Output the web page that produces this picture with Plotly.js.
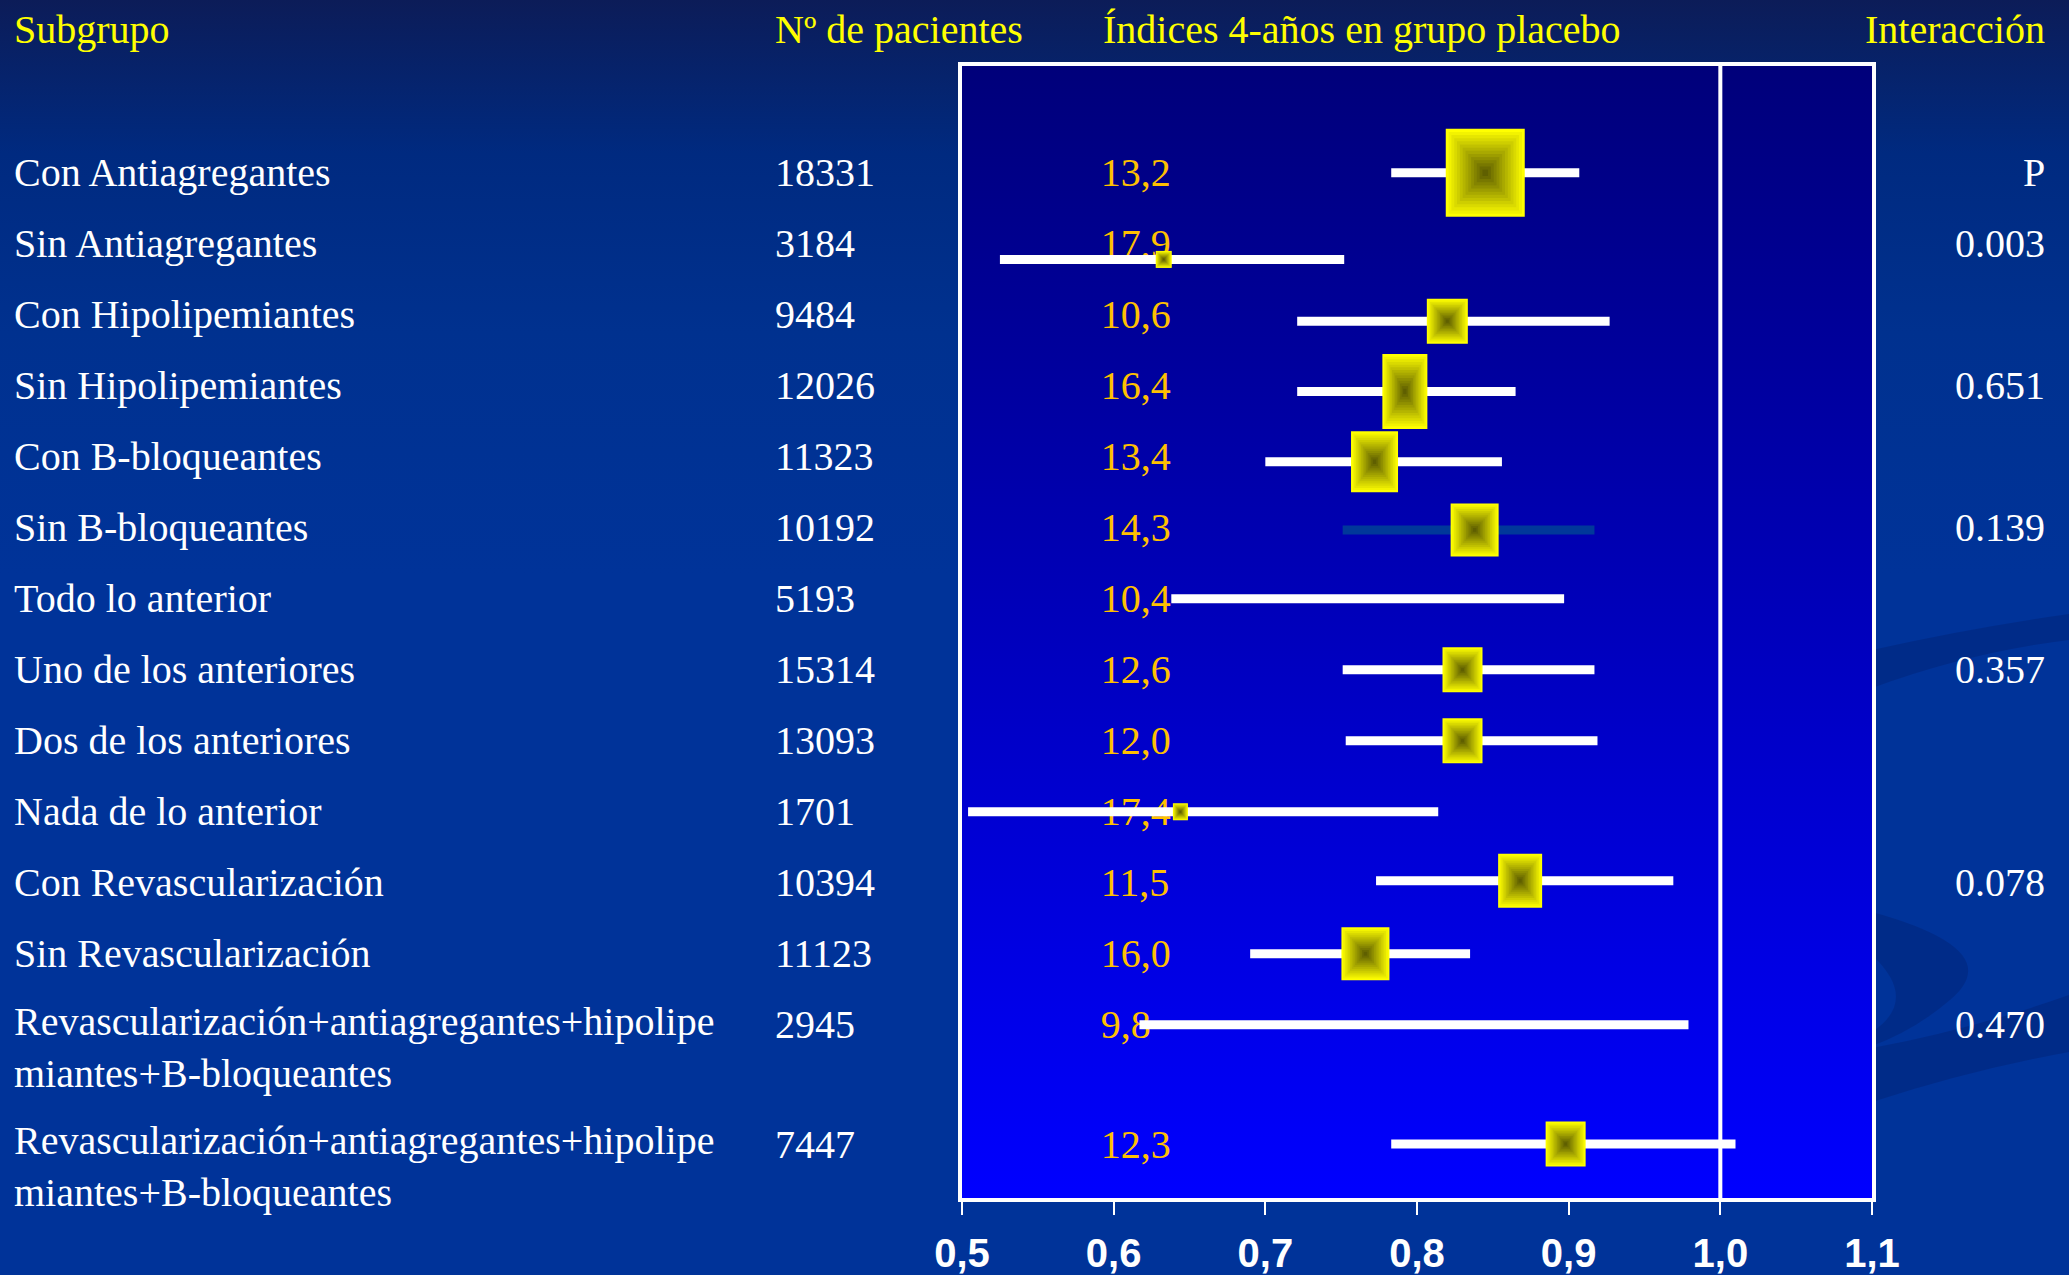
<!DOCTYPE html>
<html>
<head>
<meta charset="utf-8">
<script src="https://cdn.plot.ly/plotly-3.0.1.min.js"></script>
<style>
html,body{margin:0;padding:0;width:2069px;height:1275px;overflow:hidden;
background:linear-gradient(to bottom,#0c1c58 0%,#002a80 12%,#00318f 26%,#003399 45%,#003399 100%);}
#chart{width:2069px;height:1275px;}
</style>
</head>
<body>
<div id="chart"></div>
<script>
// ---------------- data ----------------
const subgroups = [
  "Con Antiagregantes","Sin Antiagregantes","Con Hipolipemiantes","Sin Hipolipemiantes",
  "Con B-bloqueantes","Sin B-bloqueantes","Todo lo anterior","Uno de los anteriores",
  "Dos de los anteriores","Nada de lo anterior","Con Revascularización","Sin Revascularización",
  "Revascularización+antiagregantes+hipolipe<br>miantes+B-bloqueantes",
  "Revascularización+antiagregantes+hipolipe<br>miantes+B-bloqueantes"
];
const patients = [18331,3184,9484,12026,11323,10192,5193,15314,13093,1701,10394,11123,2945,7447];
const placeboRates = ["13,2","17,9","10,6","16,4","13,4","14,3","10,4","12,6","12,0","17,4","11,5","16,0","9,8","12,3"];
const hazardRatio = [0.845,0.633,0.820,0.792,0.772,0.838,null,0.830,0.830,0.644,0.868,0.766,null,0.898];
const ciLow  = [0.783,0.525,0.721,0.721,0.700,0.751,0.638,0.751,0.753,0.504,0.773,0.690,0.617,0.783];
const ciHigh = [0.907,0.752,0.927,0.865,0.856,0.917,0.897,0.917,0.919,0.814,0.969,0.835,0.979,1.010];
const pInteraction = ["P","0.003","","0.651","","0.139","","0.357","","","0.078","","0.470",""];
const headers = ["Subgrupo","Nº de pacientes","Índices 4-años en grupo placebo","Interacción"];
const tickVals = [0.5,0.6,0.7,0.8,0.9,1.0,1.1];
const tickText = ["0,5","0,6","0,7","0,8","0,9","1,0","1,1"];
const nullEffect = 1.0;

// ---------------- layout / style ----------------
const rowPos = [0,1,2,3,4,5,6,7,8,9,10,11,12,13.68];
const markShift = [0,0.22,0.09,0.08,0.07,0.03,0,0,0,0,-0.03,0,0,0];  // slight vertical offset of marks vs. text
const boxW = [79,16,41,45,47,48,0,40,40,15,44,48,0,40];
const boxH = [88,17,45,75,61,53,0,45,45,17,54,53,0,45];
const lineColors = subgroups.map((s,i)=> i===5 ? "#00389a" : "#ffffff");

const W=2069,H=1275,L=962,R=1872,T=66,B=1198;
const px2paperX = p => (p-L)/(R-L);
const px2paperY = p => (B-p)/(B-T);

const serif = "Liberation Serif, Times New Roman, serif";
const fs = 40;

// golden rate column (drawn under the CI lines)
const traces = [];
traces.push({
  type:"scatter", mode:"text",
  x: placeboRates.map(()=>0.5915), y: rowPos.map(r=>r+0.05),
  text: placeboRates, textposition:"middle right",
  textfont:{family:serif,size:fs,color:"#FFC000"},
  hoverinfo:"skip", showlegend:false, cliponaxis:false
});
// CI lines
subgroups.forEach((s,i)=>{
  const yy = rowPos[i]+markShift[i];
  traces.push({
    type:"scatter", mode:"lines",
    x:[ciLow[i],ciHigh[i]], y:[yy,yy],
    line:{color:lineColors[i],width:9},
    hoverinfo:"skip", showlegend:false
  });
});

// background swooshes (px coords -> paper)
const P = (x,y)=> px2paperX(x).toFixed(4)+","+px2paperY(y).toFixed(4);
const shapes = [];
const swooshFill = "rgba(0,25,95,0.28)";
shapes.push({type:"path", xref:"paper", yref:"paper", layer:"below", line:{width:0}, fillcolor:swooshFill,
  path:`M${P(1872,650)} Q${P(1970,628)} ${P(2069,614)} L${P(2069,640)} Q${P(1970,652)} ${P(1872,688)} Z`});
shapes.push({type:"path", xref:"paper", yref:"paper", layer:"below", line:{width:0}, fillcolor:swooshFill,
  path:`M${P(1872,912)} Q${P(2010,950)} ${P(1950,1000)} Q${P(1915,1030)} ${P(1872,1046)} L${P(1872,1032)} Q${P(1920,1000)} ${P(1872,955)} Z`});
shapes.push({type:"path", xref:"paper", yref:"paper", layer:"below", line:{width:0}, fillcolor:swooshFill,
  path:`M${P(1872,1048)} Q${P(1970,1030)} ${P(2069,995)} L${P(2069,1052)} Q${P(1970,1070)} ${P(1872,1102)} Z`});

shapes.push({type:"line",xref:"x",yref:"paper",x0:nullEffect,x1:nullEffect,y0:0,y1:1,
  line:{color:"#ffffff",width:4},layer:"below"});
const nLayers = 14;
hazardRatio.forEach((v,i)=>{
  if(v===null) return;
  for(let k=0;k<nLayers;k++){
    const s = 1 - k/nLayers;
    const t = k/(nLayers-1);
    const c = Math.round(255 - t*(255-95));
    shapes.push({
      type:"rect", layer:"above",
      xref:"x", yref:"y",
      xsizemode:"pixel", ysizemode:"pixel",
      xanchor:v, yanchor:rowPos[i]+markShift[i],
      x0:-boxW[i]/2*s, x1:boxW[i]/2*s,
      y0:-boxH[i]/2*s, y1:boxH[i]/2*s,
      fillcolor:`rgb(${c},${c},0)`, line:{width:0}
    });
  }
});

// annotations
const ann = [];
const headerX = [12,773,1101,2047];
headers.forEach((h,j)=>{
  ann.push({text:h, xref:"paper", yref:"paper", x:px2paperX(headerX[j]), y:px2paperY(30),
    xanchor: j===3 ? "right":"left", yanchor:"middle", showarrow:false,
    font:{family:serif,size:fs,color:"#FFFF00"}});
});
subgroups.forEach((s,i)=>{
  const two = s.indexOf("<br>")>=0;
  ann.push({text:s, xref:"paper", yref:"y", x:px2paperX(12), y:rowPos[i],
    xanchor:"left", yanchor: two?"top":"middle", yshift: two?28:0, align:"left",
    showarrow:false, font:{family:serif,size:fs,color:"#ffffff"}});
  ann.push({text:String(patients[i]), xref:"paper", yref:"y", x:px2paperX(773), y:rowPos[i],
    xanchor:"left", yanchor:"middle", showarrow:false,
    font:{family:serif,size:fs,color:"#ffffff"}});
  if(pInteraction[i]){
    ann.push({text:pInteraction[i], xref:"paper", yref:"y", x:px2paperX(2047), y:rowPos[i],
      xanchor:"right", yanchor:"middle", showarrow:false,
      font:{family:serif,size:fs,color:"#ffffff"}});
  }
});

const gradSvg = "<svg xmlns='http://www.w3.org/2000/svg' width='910' height='1132' preserveAspectRatio='none'>"+
 "<defs><linearGradient id='g' x1='0' y1='0' x2='0' y2='1'>"+
 "<stop offset='0' stop-color='#00007a'/><stop offset='1' stop-color='#0000ff'/>"+
 "</linearGradient></defs><rect width='910' height='1132' fill='url(#g)'/></svg>";

const layout = {
  width:W, height:H,
  margin:{l:L, r:W-R, t:T, b:H-B, pad:0},
  paper_bgcolor:"rgba(0,0,0,0)", plot_bgcolor:"rgba(0,0,0,0)",
  showlegend:false,
  xaxis:{range:[0.5,1.1], tickvals:tickVals, ticktext:tickText,
    showline:true, mirror:true, linecolor:"#ffffff", linewidth:4,
    ticks:"outside", ticklen:13, tickwidth:2, tickcolor:"#ffffff",
    showgrid:false, zeroline:false, ticklabelstandoff:4,
    tickfont:{family:"Liberation Sans Narrow, Arial Narrow, Liberation Sans, Arial, sans-serif", size:40, color:"#ffffff", weight:"bold"}},
  yaxis:{range:[14.44,-1.504], showticklabels:false, ticks:"",
    showline:true, mirror:true, linecolor:"#ffffff", linewidth:4,
    showgrid:false, zeroline:false},
  images:[{source:"data:image/svg+xml;base64,"+btoa(gradSvg), xref:"paper", yref:"paper",
    x:0, y:1, sizex:1, sizey:1, sizing:"stretch", xanchor:"left", yanchor:"top", layer:"below"}],
  shapes:shapes,
  annotations:ann
};

Plotly.newPlot("chart", traces, layout, {displayModeBar:false, staticPlot:true});
</script>
</body>
</html>
